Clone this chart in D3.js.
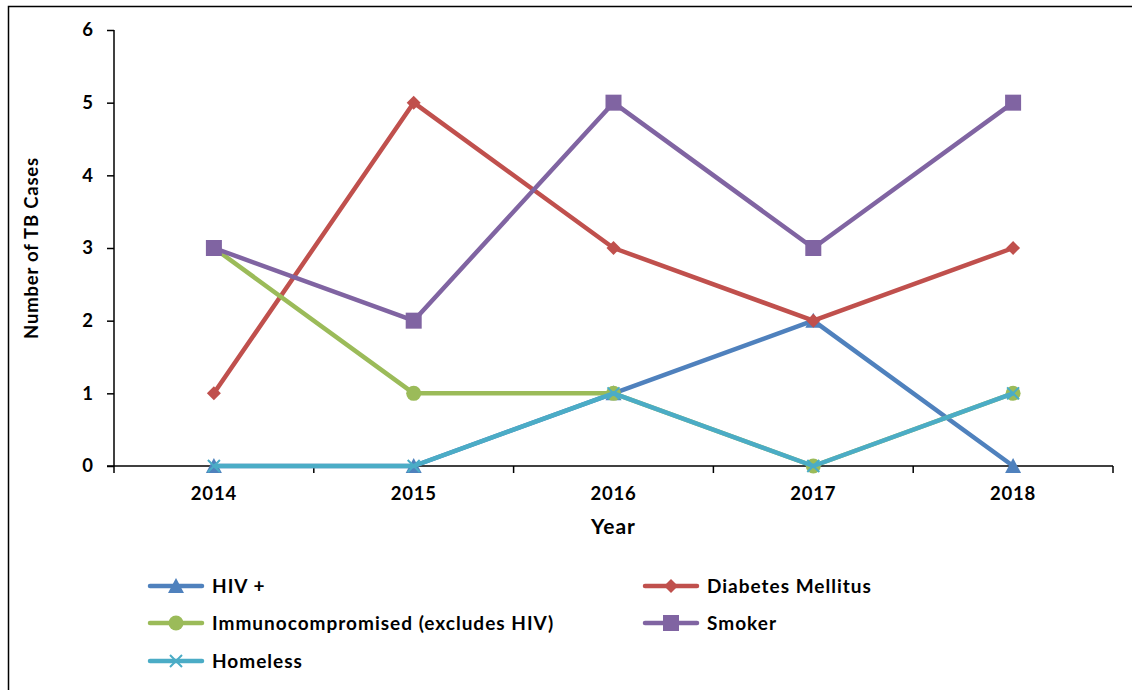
<!DOCTYPE html>
<html>
<head>
<meta charset="utf-8">
<script src="https://cdn.jsdelivr.net/npm/d3@7"></script>
<style>
  body { margin: 0; background: #fff; }
  text { font-family: Lato, "Open Sans", sans-serif; font-weight: bold; fill: #000; }
</style>
</head>
<body>
<svg id="chart" width="1132" height="690"></svg>
<script>
var years = ["2014", "2015", "2016", "2017", "2018"];
var yTicks = [0, 1, 2, 3, 4, 5, 6];

var hiv = [0, 0, 1, 2, 0];
var diabetes = [1, 5, 3, 2, 3];
var immuno = [3, 1, 1, 0, 1];
var smoker = [3, 2, 5, 3, 5];
var homeless = [0, 0, 1, 0, 1];

var seriesNames = ["HIV +", "Diabetes Mellitus", "Immunocompromised (excludes HIV)", "Smoker", "Homeless"];
var seriesValues = [hiv, diabetes, immuno, smoker, homeless];
var seriesColors = ["#4F81BD", "#C0504D", "#9BBB59", "#8064A2", "#4BACC6"];
var seriesMarkers = ["triangle", "diamond", "circle", "square", "cross"];

var svg = d3.select("#chart");

// outer frame (cut off on the right and bottom)
svg.append("rect")
    .attr("x", 8.5).attr("y", 6.5)
    .attr("width", 1140).attr("height", 700)
    .attr("fill", "none").attr("stroke", "#000").attr("stroke-width", 1.5);

var plotLeft = 114, plotRight = 1113, plotTop = 30, plotBottom = 466;

var xScale = d3.scaleBand().domain(years).range([plotLeft, plotRight]);
var yScale = d3.scaleLinear().domain([0, 6]).range([plotBottom, plotTop]);

// y axis
var yAxis = d3.axisLeft(yScale).tickValues(yTicks).tickSize(7).tickPadding(14).tickFormat(d3.format("d"));
var gy = svg.append("g").attr("transform", "translate(" + plotLeft + ",0)").call(yAxis);
gy.select(".domain").attr("stroke", "#000").attr("stroke-width", 1.5)
    .attr("d", "M0," + plotTop + "V" + (plotBottom + 7));
gy.selectAll(".tick line").attr("stroke", "#000").attr("stroke-width", 1.5);
gy.selectAll(".tick text")
    .style("font-size", "18.5px").style("font-family", "Lato, sans-serif")
    .style("font-weight", "bold");

// x axis: ticks at category boundaries
var gx = svg.append("g").attr("transform", "translate(0," + plotBottom + ")");
gx.append("line").attr("x1", plotLeft - 7).attr("x2", plotRight).attr("stroke", "#000").attr("stroke-width", 1.5);
var bounds = years.map(function(d) { return xScale(d); }).slice(1).concat([plotRight]);
gx.selectAll(".bt").data(bounds).enter().append("line")
    .attr("x1", function(d) { return d; }).attr("x2", function(d) { return d; })
    .attr("y1", 0).attr("y2", 7)
    .attr("stroke", "#000").attr("stroke-width", 1.5);
gx.selectAll(".xl").data(years).enter().append("text")
    .attr("x", function(d) { return xScale(d) + xScale.bandwidth() / 2; })
    .attr("y", 34)
    .attr("text-anchor", "middle")
    .style("font-size", "18.5px")
    .style("letter-spacing", "0.8px")
    .text(function(d) { return d; });

// axis titles
svg.append("text")
    .attr("x", (plotLeft + plotRight) / 2).attr("y", 534)
    .attr("text-anchor", "middle")
    .style("font-size", "21px")
    .style("letter-spacing", "1px")
    .text("Year");
svg.append("text")
    .attr("transform", "translate(38," + ((plotTop + plotBottom) / 2) + ") rotate(-90)")
    .attr("text-anchor", "middle")
    .style("font-size", "18.5px")
    .style("letter-spacing", "0.8px")
    .text("Number of TB Cases");

function cx(i) { return xScale(years[i]) + xScale.bandwidth() / 2; }

function drawMarker(g, type, x, y, color) {
  if (type === "triangle") {
    g.append("path").attr("d", "M" + x + "," + (y - 8) + "L" + (x + 8) + "," + (y + 7) + "L" + (x - 8) + "," + (y + 7) + "Z").attr("fill", color);
  } else if (type === "diamond") {
    g.append("path").attr("d", "M" + x + "," + (y - 7) + "L" + (x + 7) + "," + y + "L" + x + "," + (y + 7) + "L" + (x - 7) + "," + y + "Z").attr("fill", color);
  } else if (type === "circle") {
    g.append("circle").attr("cx", x).attr("cy", y).attr("r", 7.5).attr("fill", color);
  } else if (type === "square") {
    g.append("rect").attr("x", x - 8).attr("y", y - 8).attr("width", 16).attr("height", 16).attr("fill", color);
  } else {
    g.append("path").attr("d", "M" + (x - 6) + "," + (y - 6) + "L" + (x + 6) + "," + (y + 6) + "M" + (x + 6) + "," + (y - 6) + "L" + (x - 6) + "," + (y + 6))
        .attr("stroke", color).attr("stroke-width", 2).attr("fill", "none");
  }
}

var line = d3.line()
    .x(function(d, i) { return cx(i); })
    .y(function(d) { return yScale(d); });

seriesValues.forEach(function(vals, s) {
  var g = svg.append("g");
  g.append("path").datum(vals)
      .attr("d", line)
      .attr("fill", "none")
      .attr("stroke", seriesColors[s])
      .attr("stroke-width", 4.5)
      .attr("stroke-linejoin", "round");
  vals.forEach(function(v, i) {
    drawMarker(g, seriesMarkers[s], cx(i), yScale(v), seriesColors[s]);
  });
});

// legend
var legendPos = [
  {x: 150, y: 586}, {x: 645, y: 586},
  {x: 150, y: 623}, {x: 645, y: 623},
  {x: 150, y: 661}
];
seriesNames.forEach(function(name, s) {
  var p = legendPos[s];
  var g = svg.append("g");
  g.append("line").attr("x1", p.x).attr("x2", p.x + 52).attr("y1", p.y).attr("y2", p.y)
      .attr("stroke", seriesColors[s]).attr("stroke-width", 4.5).attr("stroke-linecap", "round");
  drawMarker(g, seriesMarkers[s], p.x + 26, p.y, seriesColors[s]);
  g.append("text").attr("x", p.x + 62).attr("y", p.y + 7)
      .style("font-size", "19px")
      .style("letter-spacing", "1px")
      .text(name);
});
</script>
</body>
</html>
